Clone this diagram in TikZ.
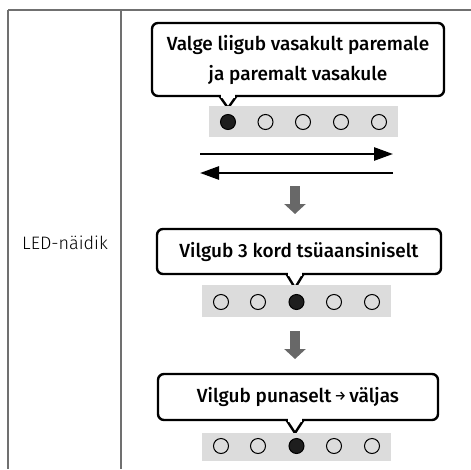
\documentclass[tikz,border=0pt]{standalone}
\usepackage{fontspec}
\setmainfont{Fira Sans}
\newfontfamily\bubblefont{Fira Sans}[UprightFont={* Medium}]
\newfontfamily\labelfont{Fira Sans}[UprightFont={* Light}]
\usetikzlibrary{arrows.meta}
\definecolor{tableline}{HTML}{707070}
\definecolor{stripgray}{HTML}{DCDCDC}
\definecolor{downgray}{HTML}{686868}
\definecolor{ledon}{HTML}{1E1E1E}
\tikzset{
  bubble/.style={draw=black, line width=2.4pt, rounded corners=6pt, fill=white,
    font=\bubblefont\fontsize{19}{30}\selectfont, align=center, inner sep=0pt},
  pointer/.style={draw=black, line width=2.4pt, fill=white, line join=miter},
  strip/.style={fill=stripgray, draw=none, inner sep=0pt, minimum width=189pt},
  ledoff/.style={circle, draw=black, line width=1pt, minimum size=15pt, inner sep=0pt},
  ledonstyle/.style={circle, draw=black, fill=ledon, line width=1pt, minimum size=15pt, inner sep=0pt},
  hline/.style={line width=2.6pt, -{Triangle[length=19pt,width=13pt]}},
  downarrow/.style={draw=downgray, line width=10pt, -{Triangle[length=10pt,width=21pt]}},
  tline/.style={draw=tableline, line width=1.1pt},
}
\begin{document}
\begin{tikzpicture}[x=1pt,y=-1pt]
\useasboundingbox (0,0) rectangle (471,469);
% table
\coordinate (tl) at (8,10);
\coordinate (tr) at (471,10);
\coordinate (bl) at (8,469);
\coordinate (dt) at (121,10);
\coordinate (db) at (121,469);
\draw[tline] (tl) -- (tr);
\draw[tline] (tl) -- (bl);
\draw[tline] (dt) -- (db);
\node[font=\labelfont\fontsize{18}{20}\selectfont] (lbl) at (65,243) {LED-näidik};

% bubble 1
\node[bubble, minimum width=292pt, minimum height=73pt] (b1) at (298,59.5)
  {Valge liigub vasakult paremale\\ja paremalt vasakule};
\coordinate (p1) at (228,108);
\draw[pointer] (219.5,96) -- (p1) -- (236.5,96);
\fill[white] (221,94) rectangle (235,98);

% strip 1
\node[strip, minimum height=31pt] (s1) at (303.5,121.5) {};
\node[ledonstyle] (s1a) at (228,122) {};
\node[ledoff] (s1b) at (265.5,122) {};
\node[ledoff] (s1c) at (303,122) {};
\node[ledoff] (s1d) at (341,122) {};
\node[ledoff] (s1e) at (379,122) {};

% horizontal arrows
\coordinate (ra) at (200,154);
\coordinate (rb) at (393,154);
\coordinate (la) at (393,173);
\coordinate (lb) at (200,173);
\draw[hline] (ra) -- (rb);
\draw[hline] (la) -- (lb);

% down arrow 1
\coordinate (d1a) at (295,186);
\coordinate (d1b) at (295,214);
\draw[downarrow] (d1a) -- (d1b);

% bubble 2
\node[bubble, minimum width=284pt, minimum height=45pt] (b2) at (299,251.5)
  {Vilgub 3 kord tsüaansiniselt};
\coordinate (p2) at (295,288);
\draw[pointer] (286.5,274) -- (p2) -- (303.5,274);
\fill[white] (288,272) rectangle (302,276);

% strip 2
\node[strip, minimum height=32pt] (s2) at (296.5,301) {};
\node[ledoff] (s2a) at (221,302) {};
\node[ledoff] (s2b) at (258,302) {};
\node[ledonstyle] (s2c) at (296.5,302) {};
\node[ledoff] (s2d) at (334,302) {};
\node[ledoff] (s2e) at (372,302) {};

% down arrow 2
\coordinate (d2a) at (295,331);
\coordinate (d2b) at (295,359);
\draw[downarrow] (d2a) -- (d2b);

% bubble 3
\node[bubble, minimum width=280pt, minimum height=46pt] (b3) at (298,397)
  {Vilgub punaselt\,{\fontsize{13}{13}\selectfont\raisebox{2pt}{→}}\,väljas};
\coordinate (p3) at (295,433);
\draw[pointer] (286.5,420) -- (p3) -- (303.5,420);
\fill[white] (288,418) rectangle (302,422);

% strip 3
\node[strip, minimum height=28pt] (s3) at (296.5,447) {};
\node[ledoff] (s3a) at (221,446) {};
\node[ledoff] (s3b) at (258,446) {};
\node[ledonstyle] (s3c) at (296.5,446) {};
\node[ledoff] (s3d) at (334,446) {};
\node[ledoff] (s3e) at (372,446) {};
\end{tikzpicture}
\end{document}
